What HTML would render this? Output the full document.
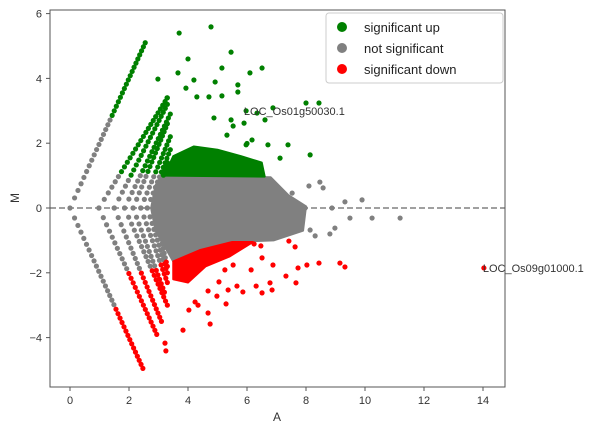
<!DOCTYPE html>
<html><head><meta charset="utf-8"><style>
body{margin:0;background:#fff;}
svg text{font-family:"Liberation Sans",sans-serif;}
</style></head><body>
<svg id="chart" width="600" height="433" xmlns="http://www.w3.org/2000/svg">
<g id="marks"></g>
<g id="axes"></g>
</svg>
<script>
// ---- data ----
const xTicks=[0,2,4,6,8,10,12,14];
const yTicks=[-4,-2,0,2,4,6];
const streakA0=[0,0.98,1.5,1.85,2.14,2.4,2.62,2.82];
const upEndA=[2.55,3.3,3.3,3.4,3.3,3.4,3.4,3.3];
const upEndM=[5.1,3.4,3.2,2.9,2.6,2.2,1.8,1.4];
const greenFrom=[2.8,1.0,1.0,1.0,1.0,1.0,1.0,1.0];
const lowEndA=[2.47,2.94,3.1,3.3,3.2,3.3,3.3,3.3];
const lowEndM=[-4.95,-3.9,-3.5,-3.0,-2.6,-2.3,-2.0,-1.8];
const redFrom=[-3.0,-2.0,-2.0,-1.9,-1.8,-1.7,-1.6,-1.6];
const blobA=[3.1,6.8,7.4,8.0,7.9,6.9,5.5,4.4,3.5,2.9,2.75,2.9];
const blobM=[1.0,0.95,0.4,0.05,-0.7,-1.0,-1.05,-1.3,-1.65,-0.7,0,0.7];
const upDenseA=[3.2,3.5,4.2,5.0,5.8,6.5,6.6];
const upDenseM=[1.0,1.6,1.9,1.8,1.6,1.4,0.97];
const downDenseA=[3.5,4.4,5.5,6.2,5.4,4.6,4.0,3.5];
const downDenseM=[-1.65,-1.3,-1.05,-1.05,-1.5,-1.8,-2.3,-2.2];
const upA=[3.70,4.78,5.46,4.00,3.29,3.66,2.98,3.93,4.20,4.92,5.15,5.69,4.71,4.30,5.15,5.69,6.10,6.51,5.97,6.34,5.90,4.88,5.46,6.71,7.39,7.12,8.14,8.00,8.44,6.17,5.32,5.53,6.00,6.61,6.88,5.97];
const upM=[5.40,5.59,4.81,4.60,3.40,4.17,3.98,3.70,3.95,3.89,4.32,3.80,3.43,3.43,3.46,3.58,4.17,4.32,3.00,2.93,2.62,2.78,2.72,1.95,1.95,1.54,1.64,3.24,3.24,2.10,2.25,2.53,1.99,2.72,3.09,1.95];
const downA=[9.15,8.44,8.03,7.73,7.42,7.63,6.47,6.24,6.88,6.78,7.32,7.66,6.51,6.14,5.53,5.25,6.31,6.85,6.51,5.86,5.36,4.98,4.68,4.34,4.68,5.29,4.75,4.03,4.24,3.83,3.22,3.25,3.90,4.47,5.05,5.66,9.32,14.03];
const downM=[-1.70,-1.70,-1.76,-1.85,-1.02,-1.20,-1.17,-1.11,-1.76,-2.31,-2.10,-2.31,-1.54,-1.91,-1.76,-1.91,-2.41,-2.53,-2.62,-2.59,-2.53,-2.72,-2.56,-3.00,-3.24,-2.96,-3.58,-3.15,-2.90,-3.77,-4.17,-4.41,-1.98,-1.82,-2.28,-2.41,-1.82,-1.85];
const midA=[8.47,8.58,9.32,9.90,11.19,10.24,8.88,9.49,8.98,8.81,8.14,7.80,8.31,7.73,7.53,8.10,7.97];
const midM=[0.80,0.62,0.19,0.25,-0.31,-0.31,0,-0.31,-0.62,-0.80,-0.68,-0.56,-0.86,0.09,0.46,0.68,0];
const labelNames=["LOC_Os01g50030.1","LOC_Os09g01000.1"];
const labelA=[5.93,14.03];
const labelM=[3.00,-1.85];

// ---- scales ----
const L=50,R=505,T=10,B=387;
const X=a=>70+a*29.5;
const Y=m=>208-m*32.4;
const NS="http://www.w3.org/2000/svg";
const marks=document.getElementById('marks');
const axes=document.getElementById('axes');
function mk(tag,attrs,parent){const e=document.createElementNS(NS,tag);for(const k in attrs)e.setAttribute(k,attrs[k]);parent.appendChild(e);return e;}
const G="#008000",GR="#808080",RD="#ff0000";
function dot(a,m,c,name){const e=mk('circle',{cx:X(a),cy:Y(m),r:2.6,fill:c},marks);

}
function poly(as,ms,c,name){const e=mk('polygon',{points:as.map((a,i)=>X(a)+','+Y(ms[i])).join(' '),fill:c,stroke:c,'stroke-width':2,'stroke-linejoin':'round'},marks);

}

poly(blobA,blobM,GR,'dense-cloud-not-significant');
poly(upDenseA,upDenseM,G,'dense-cloud-significant-up');
poly(downDenseA,downDenseM,RD,'dense-cloud-significant-down');

streakA0.forEach((a0,i)=>{
  [[upEndA[i],upEndM[i],1],[lowEndA[i],lowEndM[i],-1]].forEach(([a1,m1,s])=>{
    const len=Math.hypot(X(a1)-X(a0),Y(m1)-Y(0));
    const n=Math.max(2,Math.round(len/5.5));
    for(let j=(i===0&&s<0)?1:0;j<=n;j++){const t=Math.pow(j/n,0.8);const a=a0+(a1-a0)*t,m=m1*t;
      let c=GR; if(s>0&&m>=greenFrom[i])c=G; if(s<0&&m<=redFrom[i])c=RD;
      dot(a,m,c,'streak-point');}
  });
});
upA.forEach((a,i)=>dot(a,upM[i],G,'point-significant-up'));
downA.forEach((a,i)=>dot(a,downM[i],RD,'point-significant-down'));
midA.forEach((a,i)=>dot(a,midM[i],GR,'point-not-significant'));

let z=mk('line',{x1:L,x2:R,y1:Y(0),y2:Y(0),stroke:'#808080','stroke-width':1.5,'stroke-dasharray':'6,3'},axes);


labelNames.forEach((t,i)=>{const e=mk('text',{x:X(labelA[i])-1,y:Y(labelM[i])+4,'font-size':11,fill:'#333'},axes);e.textContent=t;

});

let f=mk('rect',{x:L,y:T,width:R-L,height:B-T,fill:'none',stroke:'#555','stroke-width':1},axes);


xTicks.forEach(v=>{mk('line',{x1:X(v),x2:X(v),y1:B,y2:B+4,stroke:'#555'},axes);
const t=mk('text',{x:X(v),y:B+17,'font-size':11,fill:'#333','text-anchor':'middle'},axes);t.textContent=v;

});
yTicks.forEach(v=>{mk('line',{x1:L-4,x2:L,y1:Y(v),y2:Y(v),stroke:'#555'},axes);
const t=mk('text',{x:L-8,y:Y(v)+4,'font-size':11,fill:'#333','text-anchor':'end'},axes);t.textContent=v<0?'\u2212'+(-v):v;

});
let xl=mk('text',{x:277,y:421,'font-size':12,fill:'#333','text-anchor':'middle'},axes);xl.textContent='A';


let yl=mk('text',{x:19,y:198,'font-size':12,fill:'#333','text-anchor':'middle',transform:'rotate(-90 19 198)'},axes);yl.textContent='M';



const lg=mk('g',{},axes);


mk('rect',{x:326,y:13,width:177,height:70,rx:3,fill:'#fff','fill-opacity':0.85,stroke:'#ccc'},lg);
const legNames=['significant up','not significant','significant down'];
const legColors=[G,GR,RD];
legNames.forEach((n,i)=>{
  const g=mk('g',{},lg);
  
  
  mk('circle',{cx:342,cy:27+i*21,r:5,fill:legColors[i]},g);
  const t=mk('text',{x:364,y:32+i*21,'font-size':13,fill:'#222'},g);t.textContent=n;
});
</script>
</body></html>
